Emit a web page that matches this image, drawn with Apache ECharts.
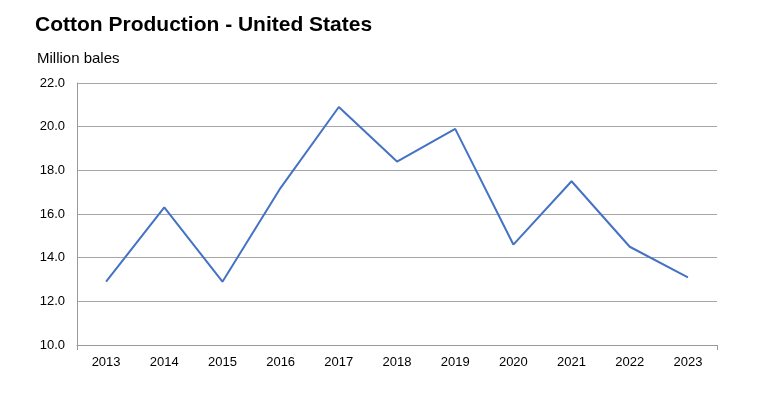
<!DOCTYPE html>
<html>
<head>
<meta charset="utf-8">
<script src="https://cdn.jsdelivr.net/npm/echarts@6/dist/echarts.min.js"></script>
<style>html,body{margin:0;padding:0;background:#fff}#c{width:780px;height:410px}</style>
</head>
<body>
<div id="c"></div>
<script>
const years = ['2013','2014','2015','2016','2017','2018','2019','2020','2021','2022','2023'];
const production = [12.9, 16.3, 12.9, 17.2, 20.9, 18.4, 19.9, 14.6, 17.5, 14.5, 13.1];

const chart = echarts.init(document.getElementById('c'), null, {renderer: 'canvas'});
const font = 'Liberation Sans, Arial, sans-serif';
chart.setOption({
  animation: false,
  backgroundColor: '#fff',
  title: [
    {text: 'Cotton Production - United States', left: 30, top: 10,
     textStyle: {fontFamily: font, fontSize: 21, fontWeight: 'bold', color: '#000'}},
    {text: 'Million bales', left: 32, top: 46,
     textStyle: {fontFamily: font, fontSize: 15, fontWeight: 'normal', color: '#000'}}
  ],
  grid: {left: 77, right: 63, top: 83, bottom: 65},
  xAxis: [{
    type: 'category', data: years, boundaryGap: true,
    axisLine: {lineStyle: {color: '#999', width: 1}},
    axisTick: {alignWithLabel: true, length: 5, lineStyle: {color: '#999'}},
    axisLabel: {fontFamily: font, fontSize: 13, color: '#000', margin: 11}
  }, {
    type: 'value', position: 'bottom', min: 0, max: 1, interval: 1,
    axisLine: {show: false}, splitLine: {show: false}, axisLabel: {show: false},
    axisTick: {show: true, length: 5, lineStyle: {color: '#999'}}
  }],
  yAxis: {
    type: 'value', min: 10, max: 22, interval: 2,
    axisLine: {show: true, lineStyle: {color: '#999'}},
    axisTick: {show: false},
    splitLine: {lineStyle: {color: '#a6a6a6', width: 1}},
    axisLabel: {fontFamily: font, fontSize: 13, color: '#000', margin: 12,
                formatter: v => v.toFixed(1)}
  },
  series: [{
    type: 'line', data: production, xAxisIndex: 0,
    symbol: 'none', lineStyle: {color: '#4472C4', width: 2}
  }]
});
</script>
</body>
</html>
